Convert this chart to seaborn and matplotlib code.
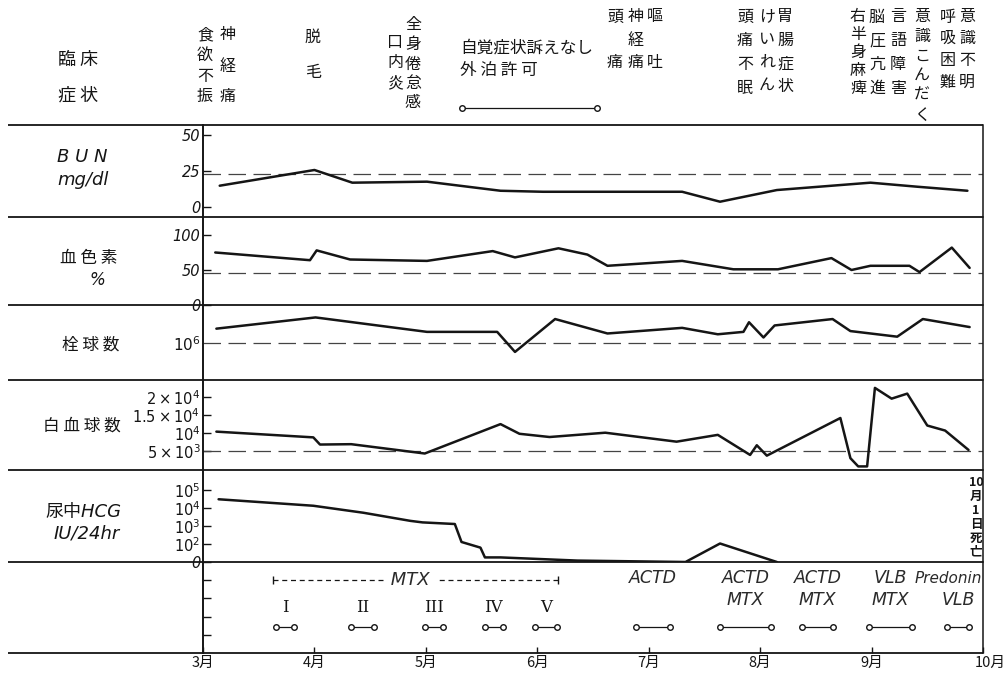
import numpy as np
import pandas as pd
import matplotlib
matplotlib.use("Agg")
import matplotlib.pyplot as plt
import matplotlib.transforms as mtrans
import seaborn as sns

# ---------------- data (x = months after 1 March) ----------------
months = ["3月", "4月", "5月", "6月", "7月", "8月", "9月", "10月"]

bun_t = [0.15, 1.00, 1.34, 2.01, 2.67, 3.05, 4.30, 4.64, 5.15, 5.99, 6.41, 6.86]
bun_v = [14.8, 25.7, 16.9, 17.6, 11.3, 10.6, 10.6, 3.7, 11.8, 16.9, 14.1, 11.3]

hb_t = [0.11, 0.96, 1.02, 1.32, 2.01, 2.60, 2.80, 3.19, 3.45, 3.63, 4.30,
        4.76, 5.16, 5.64, 5.82, 5.99, 6.34, 6.43, 6.72, 6.88]
hb_v = [75, 64, 78, 65, 63, 77, 68, 81, 72, 56, 63, 51, 51, 67, 50, 56, 56, 47, 82, 53]

rbc_t = [0.12, 1.01, 2.01, 2.64, 2.80, 3.16, 3.63, 4.30, 4.62, 4.85, 4.90,
         5.03, 5.13, 5.65, 5.81, 6.23, 6.46, 6.88]
rbc_v = [1.18, 1.32, 1.14, 1.14, 0.89, 1.30, 1.12, 1.19, 1.11, 1.14, 1.26,
         1.07, 1.22, 1.30, 1.15, 1.08, 1.30, 1.20]          # x 10^6

wbc_t = [0.12, 0.99, 1.05, 1.33, 1.99, 2.67, 2.84, 3.11, 3.61, 4.25, 4.62, 4.91,
         4.97, 5.06, 5.72, 5.81, 5.88, 5.96, 6.03, 6.18, 6.32, 6.50, 6.66, 6.87]
wbc_v = [10.4, 8.8, 6.8, 6.9, 4.3, 12.5, 9.8, 8.9, 10.1, 7.6, 9.5, 3.9,
         6.6, 3.7, 14.2, 3.0, 0.7, 0.7, 22.6, 19.6, 21.0, 12.1, 10.7, 5.3]  # x 10^3

hcg_t = [0.14, 0.99, 1.44, 1.86, 1.97, 2.26, 2.32, 2.49, 2.53, 2.67, 3.36, 4.33, 4.64, 5.15]
hcg_v = [31000, 13500, 5500, 1950, 1600, 1300, 130, 63, 18, 18, 12, 0, 107, 0]  # IU/24hr

tx_labels = ["I", "II", "III", "IV", "V", "ACTD", "ACTD\nMTX", "ACTD\nMTX",
             "VLB\nMTX", "Predonin\nVLB"]
tx_start = [0.655, 1.33, 1.99, 2.53, 2.98, 3.89, 4.64, 5.38, 5.98, 6.68]
tx_end = [0.817, 1.535, 2.15, 2.69, 3.18, 4.19, 5.10, 5.65, 6.36, 6.87]
mtx_course = [0.63, 3.19]
outing_period = [2.32, 3.54]

# ---------------- figure ----------------
sns.set_theme(style="white")
plt.rcParams['font.family'] = ['Noto Sans CJK JP', 'DejaVu Sans']
plt.rcParams['mathtext.fontset'] = 'dejavusans'
INK = '#151515'
LAT = ['DejaVu Sans', 'Noto Sans CJK JP']

W, H = 1006, 673
X0, X1 = 203, 983
fig = plt.figure(figsize=(W / 100, H / 100), dpi=100)
fig.patch.set_facecolor('white')

bg = fig.add_axes([0, 0, 1, 1])
bg.set_xlim(0, W)
bg.set_ylim(H, 0)
bg.axis('off')

bounds = [125, 217, 305, 380, 470, 562, 653]
for yb in bounds:
    bg.hlines(yb, 8, X1, color=INK, lw=1.3)


def band(top, bot):
    ax = fig.add_axes([X0 / W, 1 - bot / H, (X1 - X0) / W, (bot - top) / H])
    ax.patch.set_alpha(0)
    for s in ['top', 'bottom']:
        ax.spines[s].set_visible(False)
    for s in ['left', 'right']:
        ax.spines[s].set_color(INK)
        ax.spines[s].set_linewidth(1.4 if s == 'left' else 1.1)
    ax.set_xlim(0, 7)
    ax.set_xticks([])
    ax.tick_params(axis='y', left=True, right=False, direction='in', length=6,
                   width=1, color=INK, pad=2)
    return ax


def series(ax, t, v):
    df = pd.DataFrame({'t': t, 'v': v})
    sns.lineplot(data=df, x='t', y='v', ax=ax, color=INK, linewidth=1.8,
                 sort=False, estimator=None)
    ax.set_xlabel('')
    ax.set_ylabel('')


def ylabels(ax, ticks, labels, size=10.5):
    ax.set_yticks(ticks)
    ax.set_yticklabels(labels, fontstyle='italic', family=LAT, fontsize=size, color=INK)


def ref(ax, y):
    ax.axhline(y, color='#444', lw=0.9, ls=(0, (14, 6)), zorder=1)


# BUN
ax = band(125, 217)
series(ax, bun_t, bun_v)
ax.set_ylim(-6.9, 56.9)
ylabels(ax, [0, 25, 50], ["0", "25", "50"])
ref(ax, 23)
ax.set_xlim(0, 7)

# Hemoglobin
ax = band(217, 305)
series(ax, hb_t, hb_v)
ax.set_ylim(0, 125.7)
ylabels(ax, [0, 50, 100], ["0", "50", "100"])
ref(ax, 46)
ax.set_xlim(0, 7)

# RBC
ax = band(305, 380)
series(ax, rbc_t, rbc_v)
ax.set_ylim(0.54, 1.475)
ylabels(ax, [1.0], [r"$\mathit{10^{6}}$"], 11)
ax.tick_params(axis='y', length=0)
ref(ax, 1.0)
ax.set_xlim(0, 7)

# WBC
ax = band(380, 470)
series(ax, wbc_t, wbc_v)
ax.set_ylim(-0.3, 24.8)
ylabels(ax, [5, 10, 15, 20],
        [r"$\mathit{5\times10^{3}}$", r"$\mathit{10^{4}}$",
         r"$\mathit{1.5\times10^{4}}$", r"$\mathit{2\times10^{4}}$"], 10.5)
ref(ax, 5)
ax.set_xlim(0, 7)

# HCG (log)
ax = band(470, 562)
ax.set_yscale('log')
series(ax, hcg_t, np.maximum(np.array(hcg_v, float), 10))
ax.set_ylim(10, 10 ** 6.12)
ax.minorticks_off()
ylabels(ax, [10, 1e2, 1e3, 1e4, 1e5],
        ["0", r"$\mathit{10^{2}}$", r"$\mathit{10^{3}}$", r"$\mathit{10^{4}}$",
         r"$\mathit{10^{5}}$"], 10.5)
ax.set_xlim(0, 7)

# Treatment band
tax = band(562, 653)
tax.set_ylim(0, 1)
tax.set_yticks([0.2, 0.4, 0.6, 0.8])
tax.set_yticklabels([])
tax.set_xticks(range(len(months)))
tax.set_xticklabels(months, fontsize=10.5, color=INK)
tax.tick_params(axis='x', bottom=True, direction='in', length=4, width=1, color=INK, pad=2)
lastlab = tax.get_xticklabels()[-1]
lastlab.set_transform(lastlab.get_transform() +
                      mtrans.ScaledTranslation(7 / 100, 0, fig.dpi_scale_trans))
tr = tax.get_xaxis_transform()

tdf = pd.DataFrame({
    't': tx_start + tx_end,
    'id': list(range(len(tx_start))) * 2,
})
tdf['y'] = 0.286
sns.lineplot(data=tdf, x='t', y='y', units='id', estimator=None, ax=tax, color=INK,
             linewidth=0.9, marker='o', markersize=4, markerfacecolor='white',
             markeredgecolor=INK, markeredgewidth=1.0)
tax.set_ylim(0, 1)
tax.set_xlim(0, 7)
tax.set_xlabel('')
tax.set_ylabel('')

for lab, s, e in zip(tx_labels, tx_start, tx_end):
    xm = (s + e) / 2
    rows = lab.split('\n')
    if lab in ("I", "II", "III", "IV", "V"):
        tax.text(xm, 0.505, lab, transform=tr, ha='center', va='center',
                 family='DejaVu Serif', fontsize=12, color=INK)
    else:
        for i, r in enumerate(rows):
            if r == 'Predonin':
                tax.text(7 - 0.005, 0.82, r, transform=tr, ha='right', va='center',
                         family=LAT, fontstyle='italic', fontsize=11, color='#2a2a2a')
            else:
                tax.text(xm, 0.82 - 0.24 * i, r, transform=tr, ha='center', va='center',
                         family=LAT, fontstyle='italic', fontsize=12.5, color='#2a2a2a')

# MTX course bracket
tax.plot(mtx_course, [0.80, 0.80], transform=tr, color=INK, lw=0.9, ls=(0, (4, 3)))
tax.plot(mtx_course, [0.80, 0.80], transform=tr, ls='none', marker='|', ms=6, color=INK)
tax.text(sum(mtx_course) / 2 - 0.05, 0.80, " MTX ", transform=tr, ha='center', va='center',
         family=LAT, fontstyle='italic', fontsize=13, color='#2a2a2a',
         bbox=dict(facecolor='white', edgecolor='none', pad=0.5))

# Symptom band
sax = fig.add_axes([X0 / W, 1 - 125 / H, (X1 - X0) / W, 125 / H])
sax.set_xlim(0, 7)
sax.set_ylim(125, 0)
sax.axis('off')
sax.plot(outing_period, [108, 108], color=INK, lw=0.9, marker='o', ms=4,
         mfc='white', mec=INK, mew=1.0)

# ---------------- texts ----------------
def vcol(x, y0, y1, chars, size=11.5, **kw):
    n = len(chars)
    ys = [y0] if n == 1 else np.linspace(y0, y1, n)
    for c, y in zip(chars, ys):
        bg.text(x, y, c, ha='center', va='center', fontsize=size, color=INK, **kw)


cols = [
    (205, 35, 97, "食欲不振"), (228, 35, 97, "神経痛"),
    (313, 37, 72, "脱毛"),
    (395, 43, 83, "口内炎"), (413, 25, 103, "全身倦怠感"),
    (615, 17, 63, "頭痛"), (636, 17, 63, "神経痛"), (655, 17, 63, "嘔吐"),
    (745, 17, 88, "頭痛不眠"), (767, 17, 85, "けいれん"), (785, 17, 87, "胃腸症状"),
    (858, 17, 88, "右半身麻痺"), (877, 17, 88, "脳圧亢進"), (898, 17, 88, "言語障害"),
    (922, 17, 115, "意識こんだく"),
    (948, 17, 82, "呼吸困難"), (967, 17, 82, "意識不明"),
]
for x, y0, y1, s in cols:
    vcol(x, y0, y1, list(s))

bg.text(460, 48, "自覚症状訴えなし", ha='left', va='center', fontsize=12, color=INK)
bg.text(460, 70, "外 泊 許 可", ha='left', va='center', fontsize=12, color=INK)

# left column labels
bg.text(78, 60, "臨 床", ha='center', va='center', fontsize=13, color=INK)
bg.text(78, 95, "症 状", ha='center', va='center', fontsize=13, color=INK)
bg.text(82, 157, "B U N", ha='center', va='center', fontsize=13, family=LAT,
        fontstyle='italic', color=INK)
bg.text(83, 180, "mg/dl", ha='center', va='center', fontsize=13, family=LAT,
        fontstyle='italic', color=INK)
bg.text(89, 258, "血 色 素", ha='center', va='center', fontsize=12, color=INK)
bg.text(97, 280, "%", ha='center', va='center', fontsize=12, family=LAT,
        fontstyle='italic', color=INK)
bg.text(91, 345, "栓 球 数", ha='center', va='center', fontsize=12, color=INK)
bg.text(82, 426, "白 血 球 数", ha='center', va='center', fontsize=12, color=INK)
bg.text(84, 512, "尿中HCG", ha='center', va='center', fontsize=13, family=LAT,
        fontstyle='italic', color=INK)
bg.text(87, 533, "IU/24hr", ha='center', va='center', fontsize=13, family=LAT,
        fontstyle='italic', color=INK)

# death note
for tok, y in zip(["10", "月", "1", "日", "死", "亡"], np.linspace(483, 552, 6)):
    bg.text(976, y, tok, ha='center', va='center', fontsize=9, fontweight='bold', color=INK)

fig.savefig("out.png", dpi=100, facecolor='white')
